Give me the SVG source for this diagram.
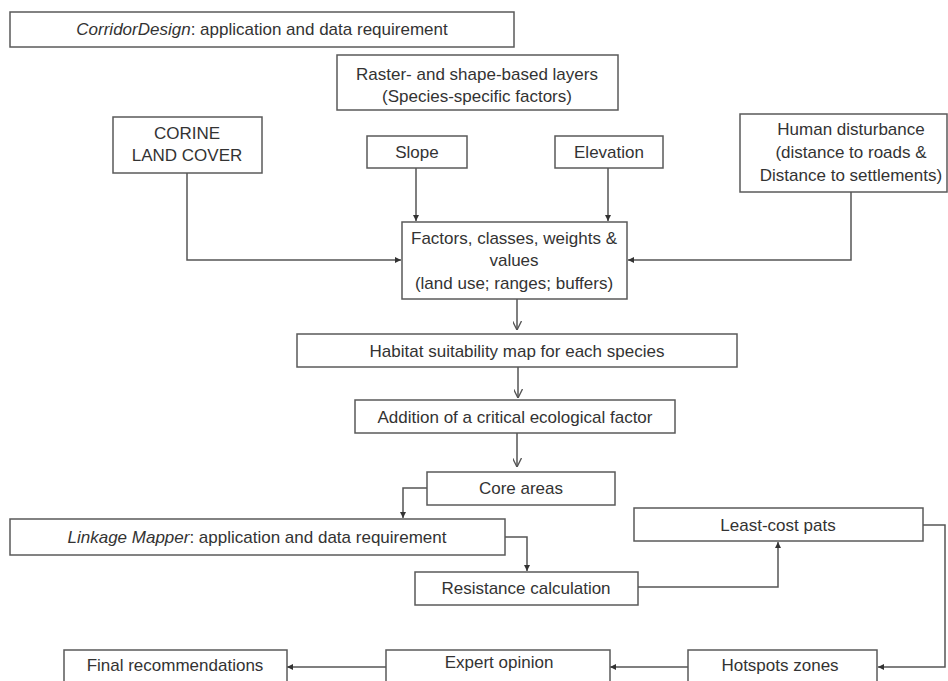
<svg xmlns="http://www.w3.org/2000/svg" width="948" height="681" viewBox="0 0 948 681">
<defs>
<style>
.box{fill:#fff;stroke:#5a5a5a;stroke-width:1.5}
.t{font-family:"Liberation Sans",Arial,sans-serif;font-size:17px;fill:#333;text-anchor:middle}
.c{fill:none;stroke:#555;stroke-width:1.5}
.f{marker-end:url(#tri)}
.o{marker-end:url(#open)}
</style>
<marker id="tri" viewBox="0 0 10 10" refX="10" refY="5" markerWidth="6" markerHeight="6" markerUnits="userSpaceOnUse" orient="auto"><path d="M0,0 L10,5 L0,10 z" fill="#333"/></marker>
<marker id="open" viewBox="0 0 10 10" refX="10" refY="5" markerWidth="9" markerHeight="9" markerUnits="userSpaceOnUse" orient="auto"><path d="M0,0 L10,5 L0,10" fill="none" stroke="#555" stroke-width="1.5"/></marker>
</defs>
<rect width="948" height="681" fill="#fff"/>
<g id="connectors">
<path class="c f" d="M187,173 V260 H401"/>
<path class="c f" d="M416,168 V221"/>
<path class="c f" d="M608,168 V221"/>
<path class="c f" d="M851,192 V260 H628"/>
<path class="c o" d="M517,299 V330"/>
<path class="c o" d="M518,367 V398"/>
<path class="c o" d="M517,433 V467"/>
<path class="c f" d="M427,488 H403 V518"/>
<path class="c f" d="M505,537 H527 V571"/>
<path class="c f" d="M638,587 H778 V542"/>
<path class="c f" d="M923,525 H945 V667 H878"/>
<path class="c f" d="M688,667 H610"/>
<path class="c f" d="M386,667 H287"/>
</g>
<g id="corridordesign"><rect class="box" x="10" y="12" width="504" height="35"/><text class="t" x="262" y="35"><tspan font-style="italic">CorridorDesign</tspan>: application and data requirement</text></g>
<g id="raster"><rect class="box" x="337" y="55" width="281" height="55"/><text class="t" x="477" y="80">Raster- and shape-based layers</text><text class="t" x="477" y="102">(Species-specific factors)</text></g>
<g id="corine"><rect class="box" x="113" y="117" width="149" height="56"/><text class="t" x="187" y="139">CORINE</text><text class="t" x="187" y="161">LAND COVER</text></g>
<g id="slope"><rect class="box" x="367" y="136" width="100" height="32"/><text class="t" x="417" y="158">Slope</text></g>
<g id="elevation"><rect class="box" x="555" y="136" width="108" height="32"/><text class="t" x="609" y="158">Elevation</text></g>
<g id="human"><rect class="box" x="740" y="114" width="207" height="78"/><text class="t" x="851" y="135">Human disturbance</text><text class="t" x="851" y="158">(distance to roads &amp;</text><text class="t" x="851" y="181">Distance to settlements)</text></g>
<g id="factors"><rect class="box" x="402" y="222" width="225" height="77"/><text class="t" x="514" y="244">Factors, classes, weights &amp;</text><text class="t" x="514" y="266">values</text><text class="t" x="514" y="289">(land use; ranges; buffers)</text></g>
<g id="habitat"><rect class="box" x="297" y="334" width="440" height="33"/><text class="t" x="517" y="357">Habitat suitability map for each species</text></g>
<g id="addition"><rect class="box" x="355" y="400" width="320" height="33"/><text class="t" x="515" y="423">Addition of a critical ecological factor</text></g>
<g id="core"><rect class="box" x="427" y="472" width="188" height="33"/><text class="t" x="521" y="494">Core areas</text></g>
<g id="linkage"><rect class="box" x="10" y="519" width="495" height="36"/><text class="t" x="257" y="543"><tspan font-style="italic">Linkage Mapper</tspan>: application and data requirement</text></g>
<g id="resistance"><rect class="box" x="415" y="572" width="223" height="33"/><text class="t" x="526" y="594">Resistance calculation</text></g>
<g id="leastcost"><rect class="box" x="634" y="508" width="289" height="33"/><text class="t" x="778" y="531">Least-cost pats</text></g>
<g id="hotspots"><rect class="box" x="688" y="650" width="189" height="45"/><text class="t" x="780" y="671">Hotspots zones</text></g>
<g id="expert"><rect class="box" x="386" y="650" width="224" height="45"/><text class="t" x="499" y="668">Expert opinion</text></g>
<g id="final"><rect class="box" x="64" y="650" width="223" height="45"/><text class="t" x="175" y="671">Final recommendations</text></g>
</svg>
